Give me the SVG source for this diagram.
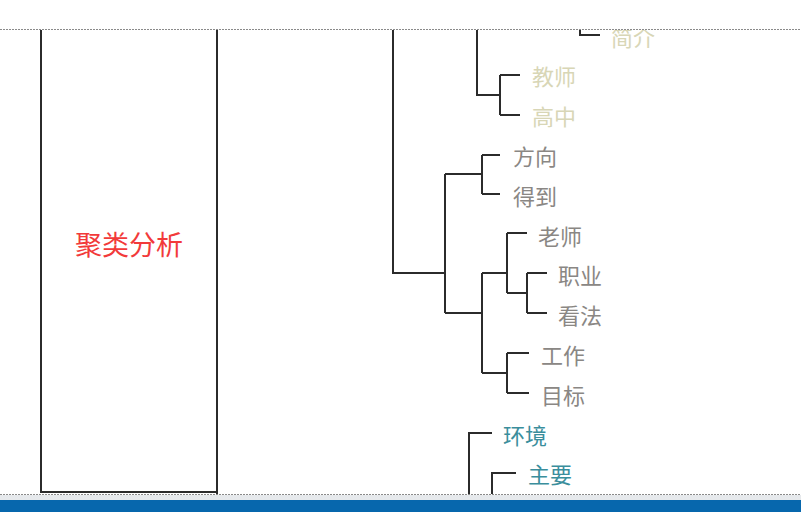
<svg xmlns="http://www.w3.org/2000/svg" width="801" height="512" viewBox="0 0 801 512">
<defs>
<style>
.ln{fill:none;stroke:#2b2b2b;stroke-width:2;}
.lb{font-family:"Noto Sans CJK SC","Noto Sans",sans-serif;font-size:22px;dominant-baseline:central;}
.g{fill:#8a8784;}
.k{fill:#d8d6b6;}
.t{fill:#3a8e9c;}
</style>
<clipPath id="clip"><rect x="0" y="30" width="801" height="464"/></clipPath>
</defs>
<rect width="801" height="512" fill="#ffffff"/>
<g clip-path="url(#clip)">
<g id="box">
<path class="ln" d="M41,20 V492 H217 V20 M217,492 V496"/>
<text x="129" y="243" text-anchor="middle" font-family="'Noto Sans CJK SC','Noto Sans',sans-serif" font-size="27" fill="#f23a3a" dominant-baseline="central">聚类分析</text>
</g>
<g id="connectors">
<path class="ln" d="M393,20 V273 H445"/>
<path class="ln" d="M445,174 V313 M445,174 H482 M445,313 H482"/>
<path class="ln" d="M482,155 V194 M482,155 H500 M482,194 H500"/>
<path class="ln" d="M482,273 V373 M482,273 H507 M482,373 H507"/>
<path class="ln" d="M507,233 V293 M507,233 H527 M507,293 H527"/>
<path class="ln" d="M527,273 V313 M527,273 H547 M527,313 H547"/>
<path class="ln" d="M507,353 V393 M507,353 H529 M507,393 H529"/>
<path class="ln" d="M477,20 V95 H500"/>
<path class="ln" d="M500,75 V115 M500,75 H520 M500,115 H520"/>
<path class="ln" d="M580,20 V35 H600"/>
<path class="ln" d="M469,500 V433 H492"/>
<path class="ln" d="M492,500 V473 H516"/>
</g>
<g id="n-jianjie"><text class="lb k" x="611" y="36">简介</text></g>
<g id="n-jiaoshi"><text class="lb k" x="532" y="75">教师</text></g>
<g id="n-gaozhong"><text class="lb k" x="532" y="115">高中</text></g>
<g id="n-fangxiang"><text class="lb g" x="513" y="155">方向</text></g>
<g id="n-dedao"><text class="lb g" x="513" y="195">得到</text></g>
<g id="n-laoshi"><text class="lb g" x="538" y="235">老师</text></g>
<g id="n-zhiye"><text class="lb g" x="558" y="274">职业</text></g>
<g id="n-kanfa"><text class="lb g" x="558" y="314">看法</text></g>
<g id="n-gongzuo"><text class="lb g" x="541" y="354">工作</text></g>
<g id="n-mubiao"><text class="lb g" x="541" y="394">目标</text></g>
<g id="n-huanjing"><text class="lb t" x="503" y="434">环境</text></g>
<g id="n-zhuyao"><text class="lb t" x="528" y="473">主要</text></g>
</g>
<line x1="0" y1="29.5" x2="801" y2="29.5" stroke="#8a8a8a" stroke-width="1" stroke-dasharray="2,1"/>
<line x1="0" y1="494.5" x2="801" y2="494.5" stroke="#8a8a8a" stroke-width="1" stroke-dasharray="2,1"/>
<rect x="0" y="495" width="801" height="5" fill="#e6e9ec"/>
<rect x="0" y="500" width="801" height="12" fill="#0767ad"/>
</svg>
